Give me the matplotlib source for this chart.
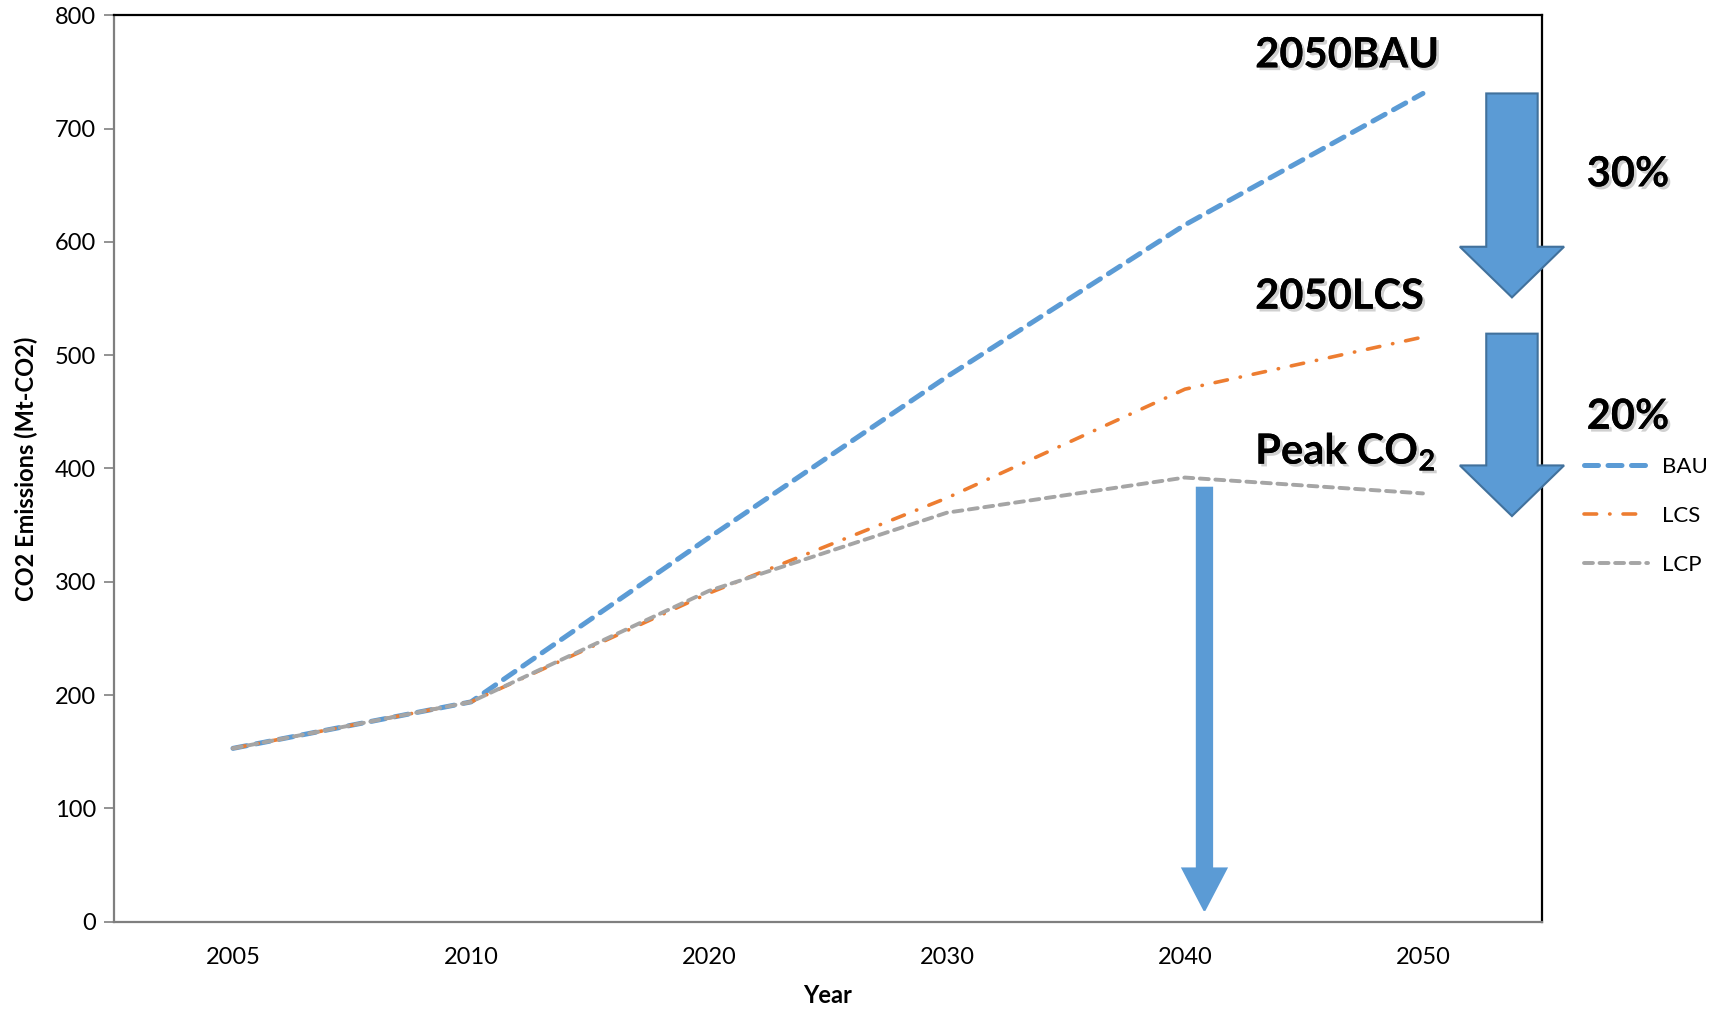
import matplotlib
matplotlib.use("Agg")
import matplotlib.pyplot as plt
import matplotlib.patheffects as pe
from matplotlib.patches import Polygon

plt.rcParams['font.family'] = ['Lato', 'DejaVu Sans']
plt.rcParams['mathtext.fontset'] = 'custom'
plt.rcParams['mathtext.rm'] = 'Lato'
plt.rcParams['mathtext.bf'] = 'Lato:bold'

# emissions scenarios (Mt-CO2)
years = ['2005', '2010', '2020', '2030', '2040', '2050']
bau = [153, 194, 339, 481, 615, 731]
lcs = [153, 194, 290, 374, 470, 516]
lcp = [153, 194, 292, 361, 392, 378]

blue = '#5B9BD5'
orange = '#ED7D31'
grey = '#A5A5A5'
arrow_edge = '#41719C'


def block_arrow(ax, xc, y_top, y_tip, shaft_hw, head_hw, head_len, edge=None):
    """draws a downward block arrow in data units"""
    y_head = y_tip + head_len
    pts = [(xc - shaft_hw, y_top), (xc + shaft_hw, y_top), (xc + shaft_hw, y_head),
           (xc + head_hw, y_head), (xc, y_tip), (xc - head_hw, y_head),
           (xc - shaft_hw, y_head)]
    p = Polygon(pts, closed=True, facecolor=blue,
                edgecolor=edge if edge else blue, linewidth=1.5,
                clip_on=False, zorder=5)
    ax.add_patch(p)


fig = plt.figure(figsize=(17.24, 10.10), dpi=100)
ax = fig.add_axes([0.0661, 0.0874, 0.8283, 0.8975])

x = list(range(len(years)))
l1, = ax.plot(x, bau, color=blue, lw=3.6, dashes=(2.8, 1.9),
              dash_capstyle='round', label='BAU', zorder=3)
l2, = ax.plot(x, lcs, color=orange, lw=2.6, dashes=(3.5, 3.6, 0.1, 3.6),
              dash_capstyle='round', label='LCS', zorder=3)
l3, = ax.plot(x, lcp, color=grey, lw=2.8, dashes=(2.3, 1.7),
              dash_capstyle='round', label='LCP', zorder=3)

ax.set_xlim(-0.5, len(years) - 0.5)
ax.set_ylim(0, 800)
ax.set_xticks(x)
ax.set_xticklabels(years)
ax.set_yticks(range(0, 801, 100))
ax.tick_params(axis='x', length=0, pad=18, labelsize=17)
ax.tick_params(axis='y', length=7, width=1.2, color='#808080', pad=6, labelsize=17)

for side in ['left', 'bottom']:
    ax.spines[side].set_color('#7f7f7f')
    ax.spines[side].set_linewidth(1.6)
for side in ['top', 'right']:
    ax.spines[side].set_color('black')
    ax.spines[side].set_linewidth(1.6)

ax.set_xlabel('Year', fontsize=17, fontweight='bold', labelpad=12)
ax.set_ylabel('CO2 Emissions (Mt-CO2)', fontsize=17, fontweight='bold', labelpad=12)

# reduction arrows
block_arrow(ax, 5.374, 731, 551, 0.108, 0.219, 44.7, edge=arrow_edge)
block_arrow(ax, 5.374, 519, 358, 0.108, 0.219, 44.7, edge=arrow_edge)
block_arrow(ax, 4.082, 383, 10, 0.032, 0.092, 37)

shadow = [pe.withSimplePatchShadow(offset=(2, -2), shadow_rgbFace='#666666', alpha=0.3),
          pe.Normal()]
txt = dict(fontsize=30, fontweight='bold', va='baseline', ha='left',
           path_effects=shadow, zorder=6)
ax.text(4.295, 754, '2050BAU', **txt)
ax.text(4.295, 541, '2050LCS', **txt)
ax.text(4.295, 404, r'Peak CO$_{\mathbf{2}}$', **txt)
ax.text(5.688, 649, '30%', **txt)
ax.text(5.688, 435, '20%', **txt)

leg = fig.legend(handles=[l1, l2, l3], loc='center left',
                 bbox_to_anchor=(1584 / 1724, 1 - 516 / 1010),
                 frameon=False, fontsize=16, handlelength=2.9,
                 handletextpad=0.6, labelspacing=1.3,
                 borderpad=0, borderaxespad=0)

fig.savefig('out.png', dpi=100)
